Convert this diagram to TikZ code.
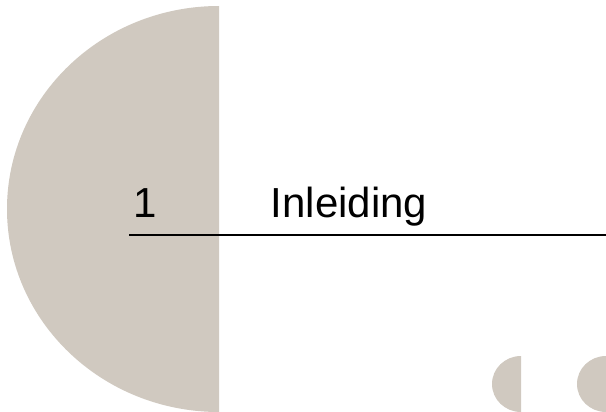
\documentclass[tikz,border=0pt]{standalone}
\usepackage{fontspec}
\setmainfont{Liberation Sans}
\definecolor{sand}{RGB}{208,201,192}
\begin{document}
\begin{tikzpicture}[x=1pt, y=-1pt,
  title/.style={anchor=base west, inner sep=0pt, font=\fontsize{42}{48}\selectfont}]
\clip (0,0) rectangle (606,412);
\fill[white] (0,0) rectangle (606,412);

% Large half disc (left)
\fill[sand] (219,6) arc[start angle=270, end angle=90, x radius=212, y radius=203] -- cycle;

% Small half discs (bottom right)
\fill[sand] (521,356) arc[start angle=270, end angle=90, x radius=29, y radius=28] -- cycle;
\fill[sand] (606,356) arc[start angle=270, end angle=90, x radius=29, y radius=28] -- cycle;

% Heading
\node[title] (num) at (133.5,217) {1};
\node[title] (head) at (270.5,217) {Inleiding};

% Rule under heading
\coordinate (rulestart) at (129,234.7);
\coordinate (ruleend) at (606,234.7);
\draw[line width=1.6pt] (rulestart) -- (ruleend);

\end{tikzpicture}
\end{document}
